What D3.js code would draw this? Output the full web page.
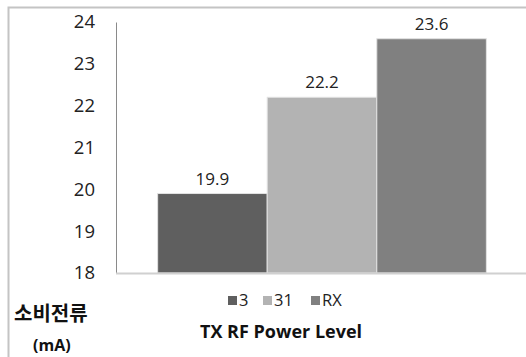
<!DOCTYPE html>
<html>
<head>
<meta charset="utf-8">
<script src="https://cdn.jsdelivr.net/npm/d3@7/dist/d3.min.js"></script>
<style>
  html, body { margin: 0; padding: 0; background: #fff; }
  svg { display: block; }
</style>
</head>
<body>
<svg id="chart" width="526" height="357"></svg>
<script>
// Current draw per TX RF power level setting
const series = ["3", "31", "RX"];
const values = [19.9, 22.2, 23.6];
const colors = ["#5f5f5f", "#b3b3b3", "#808080"];
const yTicks = [18, 19, 20, 21, 22, 23, 24];
const xTitle = "TX RF Power Level";
const yTitle = ["소비전류", "(mA)"];

const svg = d3.select("#chart");
const W = 526, H = 357;
const plot = { left: 116, right: 528, top: 22, bottom: 273 };
const font = "'Open Sans', 'Noto Sans', sans-serif";

// outer frame (top and left edges)
svg.append("path")
  .attr("d", `M8.5,${H} L8.5,7.5 L${W},7.5`)
  .attr("fill", "none").attr("stroke", "#c4c4c4").attr("stroke-width", 2);

const x = d3.scaleBand().domain(series)
  .range([plot.left, plot.right]).paddingInner(0).paddingOuter(0.38);
const y = d3.scaleLinear().domain([18, 24]).range([plot.bottom, plot.top]);

// y axis labels
const yAxis = d3.axisLeft(y).tickValues(yTicks).tickSize(0).tickPadding(21)
  .tickFormat(d3.format("d"));
const gy = svg.append("g").attr("transform", `translate(${plot.left},0)`).call(yAxis);
gy.select(".domain").attr("stroke", "#8a8a8a").attr("stroke-width", 1);
gy.selectAll("text").attr("font-family", font).attr("font-size", 18.5).attr("fill", "#222");

// bars
svg.append("g").selectAll("rect").data(values).join("rect")
  .attr("x", (d, i) => x(series[i]))
  .attr("y", d => y(d))
  .attr("width", x.bandwidth())
  .attr("height", d => y(18) - y(d))
  .attr("fill", (d, i) => colors[i])
  .attr("stroke", "#e2e2e2").attr("stroke-width", 1);

// value labels
svg.append("g").selectAll("text").data(values).join("text")
  .attr("x", (d, i) => x(series[i]) + x.bandwidth() / 2)
  .attr("y", d => y(d) - 9)
  .attr("text-anchor", "middle")
  .attr("font-family", font).attr("font-size", 17).attr("fill", "#222")
  .text(d => d3.format(".1f")(d));

// x axis baseline
svg.append("line")
  .attr("x1", plot.left).attr("x2", W)
  .attr("y1", plot.bottom + 0.5).attr("y2", plot.bottom + 0.5)
  .attr("stroke", "#d0d0d0").attr("stroke-width", 2);

// legend
const legendX = [228, 263, 311];
const lg = svg.append("g").selectAll("g").data(series).join("g")
  .attr("transform", (d, i) => `translate(${legendX[i]},295)`);
lg.append("rect").attr("width", 9).attr("height", 9).attr("y", 1)
  .attr("fill", (d, i) => colors[i]);
lg.append("text").attr("x", 11).attr("y", 11)
  .attr("font-family", font).attr("font-size", 16.5).attr("fill", "#222")
  .text(d => d);

// axis titles
svg.append("text").attr("x", 200).attr("y", 337.5)
  .attr("font-family", font).attr("font-weight", "bold").attr("font-size", 18)
  .attr("fill", "#111").text(xTitle);
svg.append("text").attr("x", 14).attr("y", 321)
  .attr("font-family", "'Noto Sans CJK KR', sans-serif").attr("font-weight", "bold")
  .attr("font-size", 20).attr("fill", "#111").text(yTitle[0]);
svg.append("text").attr("x", 33).attr("y", 351)
  .attr("font-family", font).attr("font-weight", "bold").attr("font-size", 16)
  .attr("fill", "#111").text(yTitle[1]);
</script>
</body>
</html>
